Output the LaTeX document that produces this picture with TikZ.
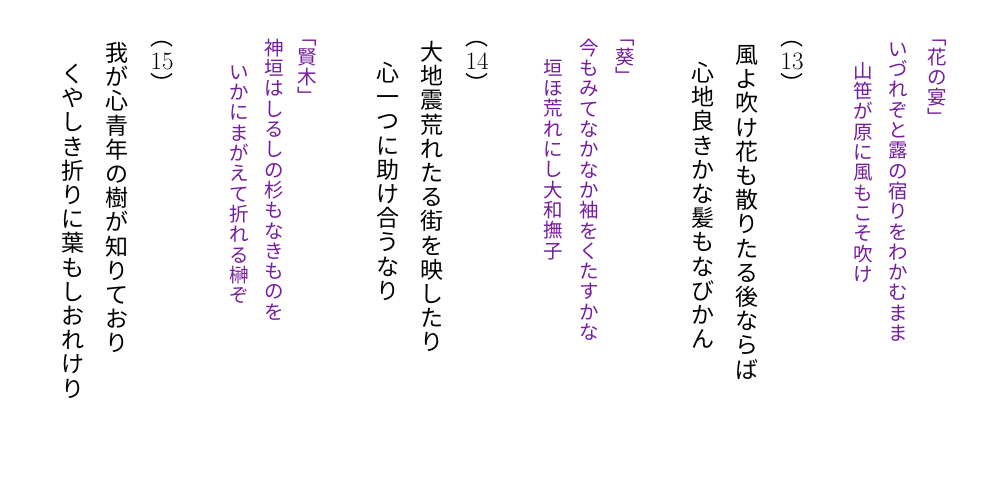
\documentclass[tikz,border=0pt]{standalone}
\usepackage{fontspec}
\usetikzlibrary{positioning}
\newfontfamily\jpfont{Noto Sans CJK JP}
\definecolor{notepurple}{RGB}{118,28,160}

% one character per line, top to bottom
\makeatletter
\newcommand\tate[1]{\vtop{\lineskiplimit=-\maxdimen\lineskip=0pt
  \@tfor\tate@ch:=#1\do{\hbox to 1em{\hss\tate@ch\hss\rule[-0.12em]{0pt}{1em}}}}}
\makeatother

\begin{document}
\begin{tikzpicture}[x=1pt, y=1pt,
  verse/.style={anchor=north, inner sep=0pt, font=\jpfont\fontsize{23}{24.2}\selectfont},
  note/.style={anchor=north, inner sep=0pt, text=notepurple, font=\jpfont\fontsize{19.5}{20.3}\selectfont},
  brk/.style={inner sep=0pt, text=notepurple, font=\jpfont\fontsize{19.5}{20.3}\selectfont},
  num/.style={inner sep=0pt, font=\fontsize{25}{25}\selectfont},
  paren/.style={inner sep=0pt, font=\jpfont\fontsize{23}{24}\selectfont}]
\useasboundingbox (0,0) rectangle (1000,-485);

% Hana no En
\node[note] (hanaT) at (937,-47) {\tate{花の宴}};
\node[brk, above=1pt of hanaT] (hanaO) {﹁};
\node[brk, below=0pt of hanaT] (hanaC) {﹂};
\node[note] (hanaA) at (898,-39) {\tate{いづれぞと露の宿りをわかむまま}};
\node[note] (hanaB) at (863,-61) {\tate{山笹が原に風もこそ吹け}};

% (13)
\node[num] (n13) at (792,-61) {13};
\node[paren, above=5pt of n13] (o13) {︵};
\node[paren, below=3pt of n13] (c13) {︶};
\node[verse] (v13a) at (747,-43) {\tate{風よ吹け花も散りたる後ならば}};
\node[verse] (v13b) at (703,-61) {\tate{心地良きかな髪もなびかん}};

% Aoi
\node[note] (aoiT) at (625,-47) {\tate{葵}};
\node[brk, above=1pt of aoiT] (aoiO) {﹁};
\node[brk, below=0pt of aoiT] (aoiC) {﹂};
\node[note] (aoiA) at (589,-38) {\tate{今もみてなかなか袖をくたすかな}};
\node[note] (aoiB) at (553,-58) {\tate{垣ほ荒れにし大和撫子}};

% (14)
\node[num] (n14) at (477,-61) {14};
\node[paren, above=5pt of n14] (o14) {︵};
\node[paren, below=3.5pt of n14] (c14) {︶};
\node[verse] (v14a) at (432,-40) {\tate{大地震荒れたる街を映したり}};
\node[verse] (v14b) at (388,-61) {\tate{心一つに助け合うなり}};

% Sakaki
\node[note] (sakakiT) at (307,-47) {\tate{賢木}};
\node[brk, above=1pt of sakakiT] (sakakiO) {﹁};
\node[brk, below=0pt of sakakiT] (sakakiC) {﹂};
\node[note] (sakakiA) at (274,-38) {\tate{神垣はしるしの杉もなきものを}};
\node[note] (sakakiB) at (239,-62) {\tate{いかにまがえて折れる榊ぞ}};

% (15)
\node[num] (n15) at (162,-61) {15};
\node[paren, above=5pt of n15] (o15) {︵};
\node[paren, below=3pt of n15] (c15) {︶};
\node[verse] (v15a) at (117,-41) {\tate{我が心青年の樹が知りており}};
\node[verse] (v15b) at (73,-62) {\tate{くやしき折りに葉もしおれけり}};
\end{tikzpicture}
\end{document}
